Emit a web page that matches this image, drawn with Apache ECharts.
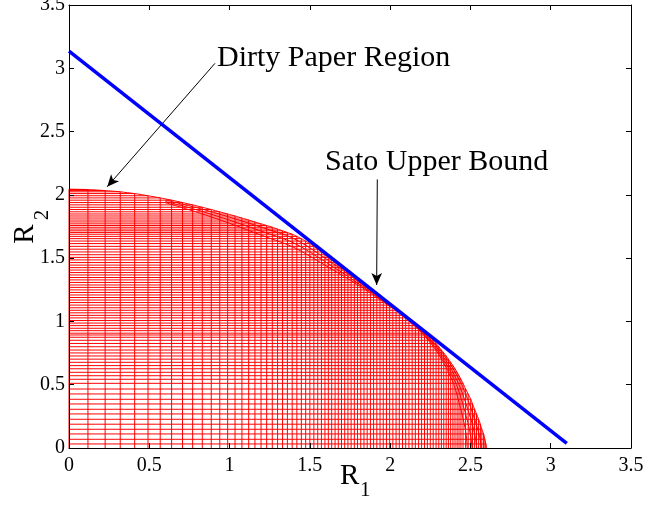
<!DOCTYPE html>
<html>
<head>
<meta charset="utf-8">
<script src="https://cdn.jsdelivr.net/npm/echarts@6/dist/echarts.min.js"></script>
<style>
  html, body { margin: 0; padding: 0; background: #fff; }
  #chart { width: 662px; height: 506px; }
</style>
</head>
<body>
<div id="chart"></div>
<script>
// corner points on the edge of the dirty paper region
// every corner gives one horizontal line (to the R2 axis) and one vertical line (to the R1 axis)
const cornerR1 = [
  0, 0.118, 0.225, 0.319, 0.409, 0.492, 0.568, 0.639, 0.707, 0.770,
  0.830, 0.886, 0.939, 0.988, 1.034, 1.077, 1.119, 1.158, 1.196, 1.231,
  1.266, 1.299, 1.330, 1.360, 1.390, 1.419, 1.447, 1.474, 1.500, 1.525,
  1.549, 1.572, 1.594, 1.615, 1.636, 1.657, 1.677, 1.697, 1.717, 1.737,
  1.757, 1.777, 1.797, 1.817, 1.837, 1.857, 1.877, 1.897, 1.917, 1.937,
  1.957, 1.977, 1.997, 2.017, 2.037, 2.057, 2.077, 2.097, 2.117, 2.137,
  2.157, 2.177, 2.196, 2.214, 2.232, 2.250, 2.268, 2.286, 2.303, 2.319,
  2.334, 2.349, 2.363, 2.377, 2.391, 2.404, 2.417, 2.429, 2.441, 2.454,
  2.470, 2.486, 2.502, 2.513, 2.526, 2.538, 2.551, 2.562, 2.571, 2.582,
  2.590, 2.596
]
const cornerR2 = [
  2.045, 2.042, 2.034, 2.024, 2.010, 1.993, 1.976, 1.958, 1.939, 1.921,
  1.902, 1.884, 1.866, 1.849, 1.833, 1.817, 1.801, 1.786, 1.771, 1.758,
  1.744, 1.730, 1.716, 1.703, 1.689, 1.672, 1.654, 1.635, 1.615, 1.593,
  1.571, 1.549, 1.527, 1.506, 1.486, 1.465, 1.445, 1.425, 1.406, 1.386,
  1.367, 1.347, 1.328, 1.308, 1.288, 1.269, 1.249, 1.229, 1.209, 1.189,
  1.169, 1.149, 1.129, 1.108, 1.088, 1.068, 1.048, 1.028, 1.007, 0.987,
  0.967, 0.946, 0.927, 0.907, 0.893, 0.875, 0.851, 0.826, 0.800, 0.774,
  0.751, 0.727, 0.702, 0.677, 0.651, 0.626, 0.598, 0.571, 0.543, 0.511,
  0.466, 0.427, 0.385, 0.348, 0.306, 0.269, 0.227, 0.188, 0.148, 0.111,
  0.069, 0.032
]

// inner arcs fanning out on the right side (R1 read at these R2 levels)
const fanR2 = [1.10, 0.95, 0.80, 0.65, 0.50, 0.35, 0.20, 0.10, 0]
const fanR1 = [
  [2.03, 2.164, 2.270, 2.343, 2.397, 2.431, 2.460, 2.474, 2.48],
  [2.03, 2.168, 2.278, 2.355, 2.413, 2.452, 2.484, 2.501, 2.51],
  [2.03, 2.172, 2.287, 2.367, 2.429, 2.472, 2.509, 2.528, 2.54],
  [2.03, 2.176, 2.295, 2.380, 2.446, 2.493, 2.533, 2.556, 2.57]
]

// inner arcs along the upper edge (R2 read at these R1 levels)
const bandR1 = [0.6, 0.8, 1.0, 1.2, 1.4, 1.6, 1.8, 2.0]
const bandR2 = [
  [1.938, 1.862, 1.775, 1.680, 1.585, 1.440, 1.288, 1.116],
  [1.948, 1.880, 1.800, 1.712, 1.620, 1.468, 1.302, 1.120],
  [1.959, 1.897, 1.824, 1.743, 1.655, 1.496, 1.316, 1.123]
]

// Sato upper bound (straight line)
const satoR1 = [0, 3.1]
const satoR2 = [3.135, 0.037]

// annotation arrows, in data units
const arrowStart = [[0.909, 3.039], [1.920, 2.122]]
const arrowEnd = [[0.238, 2.064], [1.916, 1.288]]
const noteTexts = ['Dirty Paper Region', 'Sato Upper Bound']

const axisMin = 0
const axisMax = 3.5
const axisStep = 0.5

const serif = 'Liberation Serif, Times New Roman, serif'
const red = '#ff0000'

const chart = echarts.init(document.getElementById('chart'), null, { renderer: 'canvas' })

// shared axis look (MATLAB style box, ticks inside)
const axisBase = {
  type: 'value',
  min: axisMin,
  max: axisMax,
  interval: axisStep,
  z: 10,
  axisLine: { show: true, onZero: false, lineStyle: { color: '#000', width: 1 } },
  axisTick: { show: true, inside: true, length: 5, lineStyle: { color: '#000', width: 1 } },
  splitLine: { show: false },
  axisLabel: { show: false }
}
const tickLabel = {
  show: true,
  color: '#000',
  fontFamily: serif,
  fontSize: 20,
  formatter: v => String(v)
}

const series = []

// grid lines of the region
series.push({
  type: 'lines',
  coordinateSystem: 'cartesian2d',
  polyline: true,
  silent: true,
  z: 2,
  lineStyle: { color: red, width: 1, opacity: 1 },
  data: cornerR1.map((r1, i) => ({
    coords: [[0, cornerR2[i]], [r1, cornerR2[i]], [r1, 0]]
  }))
})

// outer edge through the corners
series.push({
  type: 'line',
  smooth: 0.2,
  showSymbol: false,
  silent: true,
  z: 3,
  lineStyle: { color: red, width: 1 },
  data: cornerR1.map((r1, i) => [r1, cornerR2[i]]).concat([[2.6, 0]])
})

fanR1.forEach(arc => {
  series.push({
    type: 'line',
    smooth: 0.3,
    showSymbol: false,
    silent: true,
    z: 3,
    lineStyle: { color: red, width: 1 },
    data: arc.map((r1, i) => [r1, fanR2[i]])
  })
})

bandR2.forEach(arc => {
  series.push({
    type: 'line',
    smooth: 0.3,
    showSymbol: false,
    silent: true,
    z: 3,
    lineStyle: { color: red, width: 1 },
    data: arc.map((r2, i) => [bandR1[i], r2])
  })
})

// Sato upper bound, with the two annotation arrows
series.push({
  type: 'line',
  showSymbol: false,
  silent: true,
  z: 5,
  lineStyle: { color: '#0000ff', width: 3.5 },
  data: satoR1.map((r1, i) => [r1, satoR2[i]]),
  markLine: {
    silent: true,
    symbol: ['none', 'arrow'],
    symbolSize: [8, 12],
    label: { show: false },
    lineStyle: { color: '#000', width: 1, type: 'solid' },
    emphasis: { disabled: true },
    data: arrowStart.map((s, i) => [{ coord: s }, { coord: arrowEnd[i] }])
  }
})

const option = {
  animation: false,
  backgroundColor: '#fff',
  grid: { left: 69, right: 31, top: 5, bottom: 58, containLabel: false, outerBoundsMode: 'none' },
  xAxis: [
    { ...axisBase, position: 'bottom', axisLabel: { ...tickLabel, margin: 8 } },
    { ...axisBase, position: 'top' }
  ],
  yAxis: [
    { ...axisBase, position: 'left', axisLabel: { ...tickLabel, margin: 4 } },
    { ...axisBase, position: 'right' }
  ],
  series: series
}

chart.setOption(option)

// axis titles and the two notes
chart.setOption({
  graphic: [
    { type: 'text', x: 340, y: 476, style: { text: 'R', font: '29px ' + serif, fill: '#000', align: 'left', verticalAlign: 'middle' } },
    { type: 'text', x: 360, y: 490, style: { text: '1', font: '21px ' + serif, fill: '#000', align: 'left', verticalAlign: 'middle' } },
    { type: 'text', x: 25, y: 234, rotation: Math.PI / 2, style: { text: 'R', font: '29px ' + serif, fill: '#000', align: 'center', verticalAlign: 'middle' } },
    { type: 'text', x: 42, y: 215, rotation: Math.PI / 2, style: { text: '2', font: '21px ' + serif, fill: '#000', align: 'center', verticalAlign: 'middle' } },
    { type: 'text', x: 217, y: 58, style: { text: noteTexts[0], font: '30px ' + serif, fill: '#000', align: 'left', verticalAlign: 'middle' } },
    { type: 'text', x: 325, y: 162, style: { text: noteTexts[1], font: '30px ' + serif, fill: '#000', align: 'left', verticalAlign: 'middle' } }
  ]
})
</script>
</body>
</html>
